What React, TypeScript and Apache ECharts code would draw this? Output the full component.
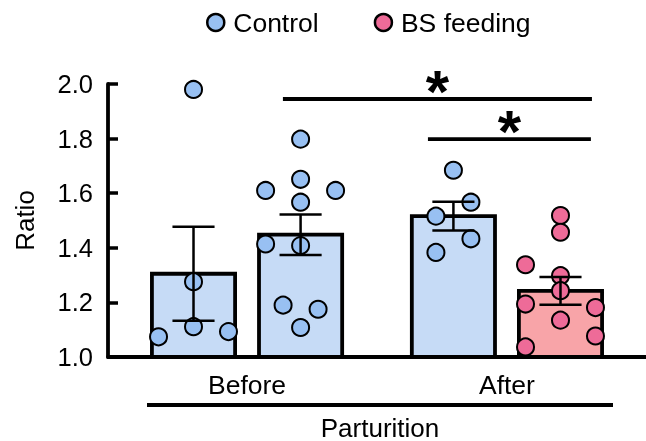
import React, { useEffect, useRef } from "react";
import * as echarts from "echarts";

const categories = ["Before", "After"];
const legendNames = ["Control", "BS feeding"];
const barGroup = [0, 0, 1, 1];
const barSide = [-1, 1, -1, 1];
const barKind = [0, 0, 0, 1];
const means = [1.305, 1.448, 1.516, 1.242];
const sems = [0.172, 0.074, 0.053, 0.051];

const pointsBar1 = [1.98, 1.276, 1.111, 1.074, 1.093];
const slotsBar1 = [0, 0, 0, -1, 1];
const pointsBar2 = [1.798, 1.651, 1.567, 1.61, 1.61, 1.414, 1.408, 1.19, 1.175, 1.108];
const slotsBar2 = [0, 0, 0, -1, 1, -1, 0, -0.5, 0.5, 0];
const pointsBar3 = [1.684, 1.567, 1.516, 1.433, 1.383];
const slotsBar3 = [0, 0.5, -0.5, 0.5, -0.5];
const pointsBar4 = [1.518, 1.457, 1.338, 1.298, 1.243, 1.194, 1.181, 1.135, 1.077, 1.037];
const slotsBar4 = [0, 0, -1, 0, 0, -1, 1, 0, 1, -1];

const sigStart = [0.138, 0.696];
const sigEnd = [1.327, 1.323];
const sigY = [1.945, 1.798];
const sigLabel = ["*", "*"];

const yMin = 1.0;
const yMax = 2.0;
const yInterval = 0.2;
const xAxisTitle = "Parturition";
const yAxisTitle = "Ratio";

const FONT = "'Liberation Sans', Arial, sans-serif";
const BAR_OFFSET = 0.206;
const BAR_WIDTH = 0.32;
const CAP_WIDTH = 0.162;
const SPREAD = 0.1346;
const barFill = ["#c6dbf6", "#f8a4a8"];
const pointFill = ["#98c0f2", "#ee6b98"];

const allPoints = [pointsBar1, pointsBar2, pointsBar3, pointsBar4];
const allSlots = [slotsBar1, slotsBar2, slotsBar3, slotsBar4];

function barX(i: number) {
  return barGroup[i] + barSide[i] * BAR_OFFSET;
}

export default function App() {
  const ref = useRef<HTMLDivElement>(null);
  useEffect(() => {
    if (!ref.current) return;
    const chart = echarts.init(ref.current, null, { renderer: "svg" });

    const barData = means.map((m, i) => [barX(i), m, barKind[i]]);
    const errData = means.map((m, i) => [barX(i), m, sems[i]]);
    const sigData = sigStart.map((s, i) => [s, sigEnd[i], sigY[i], i]);

    const scatterSeries = allPoints.map((pts, bi) => ({
      type: "scatter",
      name: legendNames[barKind[bi]],
      z: 3,
      symbol: "circle",
      symbolSize: 17,
      itemStyle: { color: pointFill[barKind[bi]], borderColor: "#000", borderWidth: 2, opacity: 1 },
      data: pts.map((v, k) => [barX(bi) + allSlots[bi][k] * SPREAD, v]),
    }));

    chart.setOption({
      animation: false,
      legend: {
        data: legendNames,
        left: 201,
        top: 4,
        icon: "circle",
        itemWidth: 17,
        itemHeight: 17,
        itemGap: 55,
        itemStyle: { borderColor: "#000", borderWidth: 2.5 },
        textStyle: { fontSize: 26.5, color: "#000", fontFamily: FONT, padding: [0, 0, 0, 4] },
      },
      grid: { left: 108, top: 84, width: 538, height: 273, containLabel: false },
      xAxis: {
        type: "value",
        min: -0.535,
        max: 1.535,
        splitLine: { show: false },
        axisTick: { show: false },
        axisLine: { show: true, onZero: false, lineStyle: { color: "#000", width: 3.8 } },
        axisLabel: {
          customValues: [0, 1],
          formatter: (v: number) => categories[Math.round(v)] ?? "",
          fontSize: 26.5,
          color: "#000",
          fontFamily: FONT,
          margin: 14,
        },
      },
      yAxis: {
        type: "value",
        min: yMin,
        max: yMax,
        interval: yInterval,
        name: yAxisTitle,
        nameLocation: "middle",
        nameGap: 70,
        nameTextStyle: { fontSize: 26, color: "#000", fontFamily: FONT },
        splitLine: { show: false },
        axisLine: { show: true, onZero: false, lineStyle: { color: "#000", width: 3.8 } },
        axisTick: { show: true, inside: true, length: 10, lineStyle: { color: "#000", width: 3.5 } },
        axisLabel: {
          formatter: (v: number) => v.toFixed(1),
          fontSize: 25.5,
          color: "#000",
          fontFamily: FONT,
          margin: 15,
        },
      },
      graphic: [
        {
          type: "line",
          shape: { x1: 147, y1: 405, x2: 613, y2: 405 },
          style: { stroke: "#000", lineWidth: 3.8 },
        },
        {
          type: "text",
          x: 380,
          y: 427.5,
          style: {
            text: xAxisTitle,
            fontSize: 26,
            lineHeight: 20,
            fill: "#000",
            fontFamily: FONT,
            align: "center",
            verticalAlign: "middle",
          },
        },
      ],
      series: [
        {
          type: "custom",
          z: 1,
          encode: { x: 0, y: 1 },
          data: barData,
          renderItem: (params: any, api: any) => {
            const x = api.value(0);
            const y = api.value(1);
            const k = api.value(2);
            const top = api.coord([x, y]);
            const base = api.coord([x, yMin]);
            const w = api.size([BAR_WIDTH, 0])[0];
            return {
              type: "rect",
              shape: { x: top[0] - w / 2, y: top[1], width: w, height: base[1] - top[1] },
              style: { fill: barFill[k], stroke: "#000", lineWidth: 3.8 },
            };
          },
        },
        ...scatterSeries,
        {
          type: "custom",
          z: 5,
          encode: { x: 0, y: 1 },
          data: errData,
          renderItem: (params: any, api: any) => {
            const x = api.value(0);
            const m = api.value(1);
            const s = api.value(2);
            const hi = api.coord([x, m + s]);
            const lo = api.coord([x, m - s]);
            const cw = api.size([CAP_WIDTH, 0])[0];
            const st = { stroke: "#000", lineWidth: 2.5 };
            return {
              type: "group",
              children: [
                { type: "line", shape: { x1: hi[0], y1: hi[1], x2: lo[0], y2: lo[1] }, style: st },
                { type: "line", shape: { x1: hi[0] - cw / 2, y1: hi[1], x2: hi[0] + cw / 2, y2: hi[1] }, style: st },
                { type: "line", shape: { x1: lo[0] - cw / 2, y1: lo[1], x2: lo[0] + cw / 2, y2: lo[1] }, style: st },
              ],
            };
          },
        },
        {
          type: "custom",
          z: 5,
          clip: false,
          encode: { x: [0, 1], y: 2 },
          data: sigData,
          renderItem: (params: any, api: any) => {
            const p1 = api.coord([api.value(0), api.value(2)]);
            const p2 = api.coord([api.value(1), api.value(2)]);
            const idx = api.value(3);
            return {
              type: "group",
              children: [
                { type: "line", shape: { x1: p1[0], y1: p1[1], x2: p2[0], y2: p2[1] }, style: { stroke: "#000", lineWidth: 3.8 } },
                {
                  type: "text",
                  x: (p1[0] + p2[0]) / 2,
                  y: p1[1] - 8,
                  style: {
                    text: sigLabel[idx],
                    fontSize: 60,
                    fontWeight: "bold",
                    fill: "#000",
                    fontFamily: FONT,
                    align: "center",
                    verticalAlign: "middle",
                  },
                },
              ],
            };
          },
        },
      ],
    });
    return () => chart.dispose();
  }, []);
  return <div ref={ref} style={{ position: "fixed", left: 0, top: 0, width: 646, height: 441 }} />;
}
